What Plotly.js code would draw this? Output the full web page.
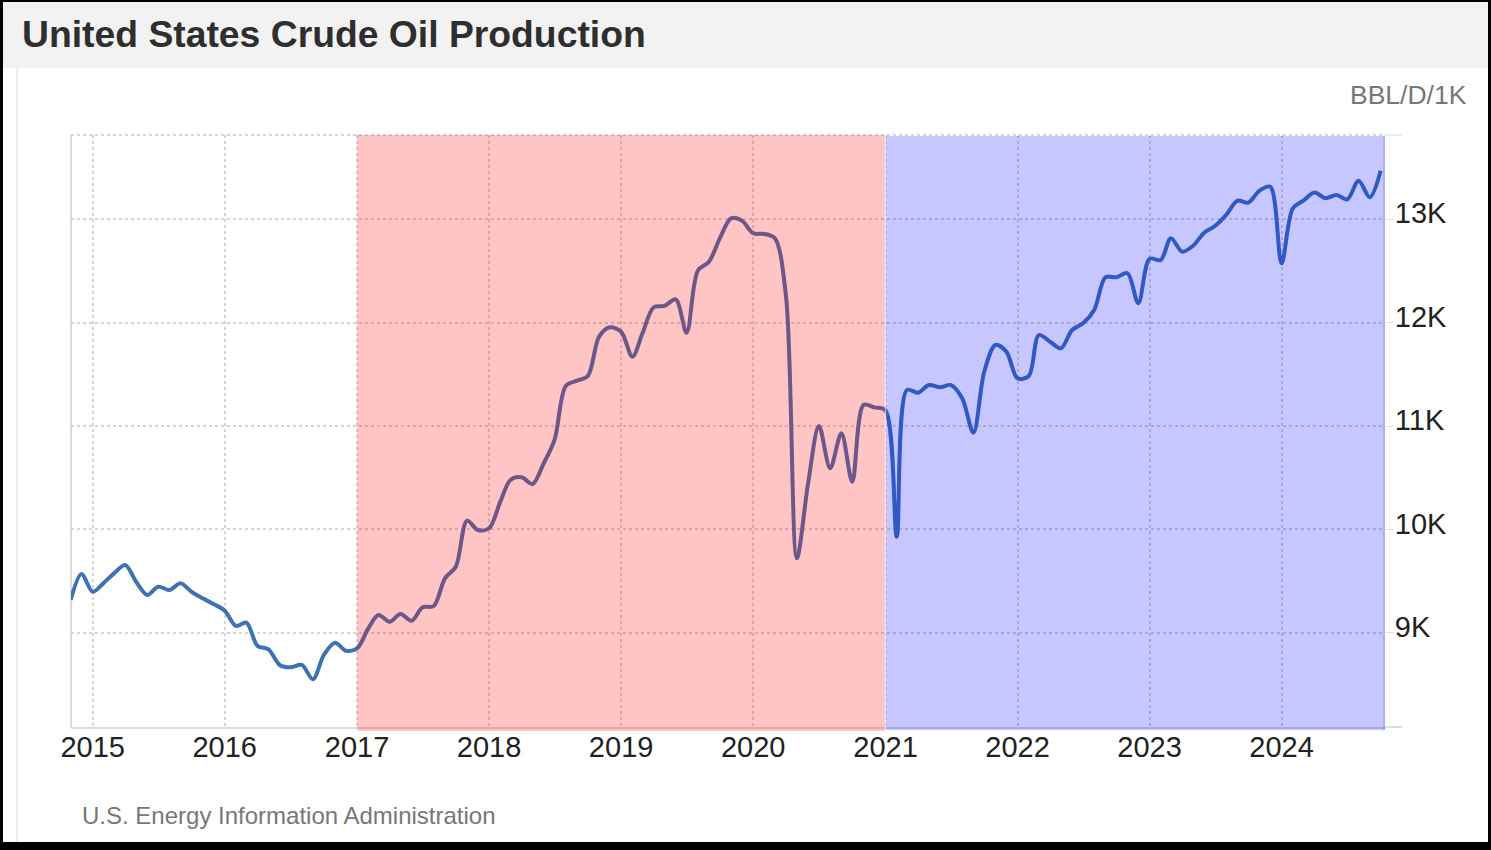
<!DOCTYPE html>
<html>
<head>
<meta charset="utf-8">
<script src="https://cdn.plot.ly/plotly-3.0.1.min.js"></script>
<style>
  html, body { margin: 0; padding: 0; background: #000; width: 1491px; height: 850px; overflow: hidden; }
  #chart { position: absolute; left: 3px; top: 2px; width: 1485px; height: 840px; background: #fff; }
</style>
</head>
<body>
<div id="chart"></div>
<script>
// ---- Data (thousand barrels per day), monthly ----
const firstMonth = [2014, 11]; // year, month of first value
const prod2014 = [9318, 9570];
const prod2015 = [9398, 9486, 9576, 9657, 9495, 9367, 9447, 9415, 9480, 9398, 9334, 9280];
const prod2016 = [9215, 9067, 9099, 8873, 8841, 8690, 8667, 8690, 8551, 8786, 8905, 8828];
const prod2017 = [8851, 9044, 9173, 9108, 9183, 9118, 9247, 9260, 9528, 9640, 10085, 9995];
const prod2018 = [10012, 10269, 10479, 10505, 10440, 10640, 10866, 11388, 11439, 11484, 11865, 11955];
const prod2019 = [11913, 11671, 11897, 12149, 12162, 12226, 11903, 12503, 12590, 12816, 13009, 12987];
const prod2020 = [12865, 12858, 12816, 12251, 9721, 10447, 11001, 10592, 10930, 10462, 11204, 11181];
const prod2021 = [11152, 9930, 11349, 11323, 11397, 11375, 11397, 11269, 10936, 11526, 11784, 11720];
const prod2022 = [11462, 11484, 11881, 11816, 11752, 11929, 11994, 12123, 12439, 12439, 12478, 12188];
const prod2023 = [12618, 12606, 12816, 12687, 12742, 12870, 12935, 13042, 13180, 13161, 13277, 13315];
const prod2024 = [12574, 13106, 13180, 13258, 13203, 13235, 13193, 13373, 13213, 13470];

const yTickVals = [9000, 10000, 11000, 12000, 13000];
const yTickText = ['9K', '10K', '11K', '12K', '13K'];

const periodStarts = ['2017-01-01', '2021-01-01'];
const rangeStart = '2014-11-02';
const periodEnd = '2024-10-13';

const chartTitle = 'United States Crude Oil Production';
const unitLabel = 'BBL/D/1K';
const sourceLabel = 'U.S. Energy Information Administration';

// ---- Build series ----
const values = [].concat(prod2014, prod2015, prod2016, prod2017, prod2018,
                         prod2019, prod2020, prod2021, prod2022, prod2023, prod2024);
const dates = [];
{
  let y = firstMonth[0], m = firstMonth[1];
  for (let i = 0; i < values.length; i++) {
    dates.push(y + '-' + String(m).padStart(2, '0') + '-01');
    m++; if (m > 12) { m = 1; y++; }
  }
}

const FONT = 'Liberation Sans, Arial, Helvetica, sans-serif';
const W = 1485, H = 840;
const M = { l: 68, r: 103, t: 133, b: 115 };
const PW = W - M.l - M.r, PH = H - M.t - M.b;
const px = v => v / PW; // pixels -> paper x
const py = v => v / PH; // pixels -> paper y

const trace = {
  x: dates,
  y: values,
  type: 'scatter',
  mode: 'lines',
  line: { color: '#3f72b3', width: 4, shape: 'spline', smoothing: 0.9 },
  hoverinfo: 'x+y'
};

const shapes = [
  // title bar background
  { type: 'rect', xref: 'paper', yref: 'paper', layer: 'below',
    x0: px(-M.l - 5), x1: 1 + px(M.r + 5), y0: 1 + py(M.t - 66), y1: 1 + py(M.t + 5),
    fillcolor: '#f2f2f2', line: { width: 0 } },
  // thin panel edge on left
  { type: 'line', xref: 'paper', yref: 'paper', layer: 'below',
    x0: px(-M.l + 14), x1: px(-M.l + 14), y0: -py(M.b + 5), y1: 1 + py(M.t - 66),
    line: { color: '#ececec', width: 2 } },
  // left axis line
  { type: 'line', xref: 'paper', yref: 'paper', layer: 'below',
    x0: 0, x1: 0, y0: 0, y1: 1, line: { color: '#dcdcdc', width: 2 } },
  // top dotted border
  { type: 'line', xref: 'paper', yref: 'paper', layer: 'below',
    x0: 0, x1: 1, y0: 1, y1: 1, line: { color: '#d5d5d5', width: 2, dash: 'dot' } },
  // top and bottom extensions past the plot on the right
  { type: 'line', xref: 'paper', yref: 'paper', layer: 'below',
    x0: 1, x1: 1 + px(17), y0: 1, y1: 1, line: { color: '#dddddd', width: 1 } },
  { type: 'line', xref: 'paper', yref: 'paper', layer: 'below',
    x0: 1, x1: 1 + px(17), y0: 0, y1: 0, line: { color: '#dddddd', width: 2 } },
  // shaded periods (drawn above the line so it is tinted)
  { type: 'rect', xref: 'x', yref: 'paper', layer: 'above',
    x0: periodStarts[0], x1: periodStarts[1], y0: -py(4), y1: 1,
    fillcolor: 'rgba(255,0,0,0.23)', line: { width: 0 } },
  { type: 'rect', xref: 'x', yref: 'paper', layer: 'above',
    x0: periodStarts[1], x1: periodEnd, y0: -py(3), y1: 1 - py(1),
    fillcolor: 'rgba(0,0,255,0.22)', line: { width: 0 } },
  { type: 'line', xref: 'x', yref: 'paper', layer: 'above',
    x0: periodStarts[1], x1: periodStarts[1], y0: -py(4), y1: 1,
    line: { color: 'rgba(255,255,255,0.55)', width: 1.5 } },
  { type: 'line', xref: 'x', yref: 'paper', layer: 'above',
    x0: periodEnd, x1: periodEnd, y0: -py(3), y1: 1 - py(1),
    line: { color: 'rgba(60,60,200,0.18)', width: 4 } }
];

const layout = {
  width: W, height: H,
  margin: M,
  paper_bgcolor: '#fff',
  plot_bgcolor: '#fff',
  showlegend: false,
  font: { family: FONT, color: '#222' },
  title: {
    text: chartTitle,
    xref: 'container', yref: 'container',
    x: 19 / W, xanchor: 'left',
    y: 1 - 32 / H, yanchor: 'middle',
    font: { family: FONT, size: 37.3, weight: 'bold', color: '#2e2e2e' }
  },
  xaxis: {
    type: 'date',
    range: [rangeStart, periodEnd],
    tick0: '2015-01-01', dtick: 'M12', tickformat: '%Y',
    showgrid: true, gridcolor: '#d5d5d5', gridwidth: 2, griddash: 'dot',
    showline: true, linecolor: '#dcdcdc', linewidth: 2,
    ticks: '', zeroline: false,
    ticklabelstandoff: -7,
    tickfont: { family: FONT, size: 29, color: '#222' },
    fixedrange: true
  },
  yaxis: {
    side: 'right',
    range: [8090, 13815],
    tickvals: yTickVals, ticktext: yTickText,
    showgrid: true, gridcolor: '#d5d5d5', gridwidth: 2, griddash: 'dot',
    showline: false, zeroline: false,
    ticks: 'outside', ticklen: 8, tickcolor: '#dddddd', tickwidth: 1,
    ticklabelshift: -6,
    ticklabelstandoff: -5,
    tickfont: { family: FONT, size: 29, color: '#222' },
    fixedrange: true
  },
  shapes: shapes,
  annotations: [
    { text: unitLabel, xref: 'paper', yref: 'paper',
      x: 1 + px(1469 - 3 - (M.l + PW)), xanchor: 'right',
      y: 1 + py(M.t - 93), yanchor: 'middle', showarrow: false,
      font: { family: FONT, size: 26.5, color: '#777' } },
    { text: sourceLabel, xref: 'paper', yref: 'paper',
      x: px(77 - M.l), xanchor: 'left',
      y: -py(814 - (M.t + PH)), yanchor: 'middle', showarrow: false,
      font: { family: FONT, size: 24, color: '#777' } }
  ]
};

Plotly.newPlot('chart', [trace], layout, { displayModeBar: false, staticPlot: true });
</script>
</body>
</html>
